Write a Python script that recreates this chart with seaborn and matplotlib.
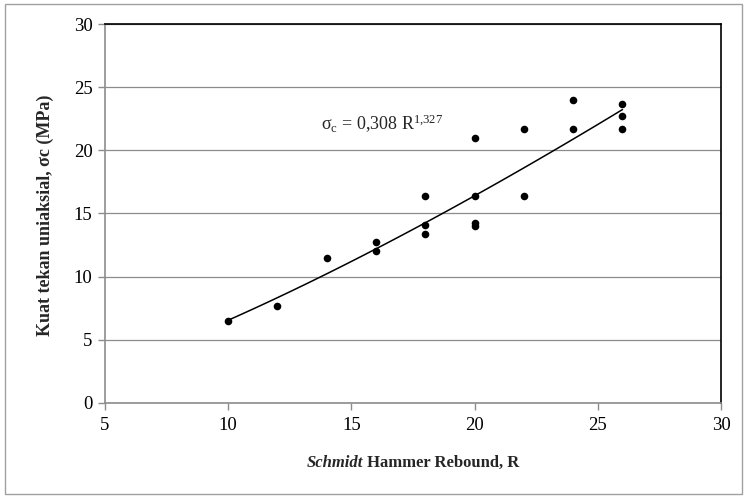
import numpy as np
import pandas as pd
import matplotlib
matplotlib.use("Agg")
import matplotlib.pyplot as plt
from matplotlib.patches import Rectangle
import seaborn as sns

# Schmidt hammer rebound (R) and uniaxial compressive strength (MPa)
rebound = [10, 12, 14, 16, 16, 18, 18, 18, 20, 20, 20, 20, 22, 22, 24, 24, 26, 26, 26]
ucs = [6.45, 7.7, 11.5, 12.75, 12.0, 16.4, 14.05, 13.35, 21.0, 16.4, 14.25, 14.0,
       21.7, 16.4, 24.0, 21.7, 23.65, 22.7, 21.7]

# power-law trendline: sigma_c = a * R^b
coef_a = 0.308
coef_b = 1.327

x_ticks = [5, 10, 15, 20, 25, 30]
y_ticks = [0, 5, 10, 15, 20, 25, 30]

sns.set_theme(style="white")
plt.rcParams["font.family"] = ["Liberation Serif", "DejaVu Serif"]
plt.rcParams["mathtext.fontset"] = "custom"
plt.rcParams["mathtext.rm"] = "Liberation Serif"
plt.rcParams["mathtext.it"] = "Liberation Serif:italic"
plt.rcParams["mathtext.bf"] = "Liberation Serif:bold"

df = pd.DataFrame({"R": rebound, "UCS": ucs})
r_fit = np.linspace(min(rebound), max(rebound), 100)
fit = pd.DataFrame({"R": r_fit, "UCS": coef_a * r_fit ** coef_b})

W, H = 746, 501
fig = plt.figure(figsize=(W / 100, H / 100), dpi=100)
ax = fig.add_axes([105 / W, 1 - 402.7 / H, (721 - 105) / W, (402.7 - 24.3) / H])

# outer chart frame
fig.patches.append(Rectangle((5 / W, 1 - 494 / H), 737 / W, 490 / H,
                             transform=fig.transFigure, fill=False,
                             edgecolor="#a0a0a0", linewidth=1.0, zorder=0))

ax.grid(axis="y", color="#8c8c8c", linewidth=0.9)
ax.set_axisbelow(True)

sns.lineplot(data=fit, x="R", y="UCS", ax=ax, color="black", linewidth=1.1, zorder=2)
sns.scatterplot(data=df, x="R", y="UCS", ax=ax, color="black", s=30,
                edgecolor="black", linewidth=0, zorder=3)

ax.set_xlim(5, 30)
ax.set_ylim(0, 30)
ax.set_xticks(x_ticks)
ax.set_yticks(y_ticks)
ax.tick_params(axis="both", direction="out", length=5, width=1, color="#8c8c8c",
               labelsize=13.5, labelcolor="black", left=True, bottom=True)
ax.tick_params(axis="x", pad=5)
ax.tick_params(axis="y", pad=4)

for side in ["left", "bottom"]:
    ax.spines[side].set_color("#8c8c8c")
    ax.spines[side].set_linewidth(1.2)
for side in ["top", "right"]:
    ax.spines[side].set_color("black")
    ax.spines[side].set_linewidth(1.2)

ax.set_xlabel("")
ax.set_ylabel("")

# y-axis title
fig.text(45 / W, 1 - 215 / H, "Kuat tekan uniaksial, σc (MPa)", rotation=90,
         ha="center", va="center", fontsize=13, fontweight="bold")

# x-axis title: italic "Schmidt" followed by bold text
renderer = fig.canvas.get_renderer()
t1 = fig.text(0, 1 - 463 / H, "Schmidt", fontsize=12, fontweight="bold",
              fontstyle="italic", va="center", ha="left")
t2 = fig.text(0, 1 - 463 / H, " Hammer Rebound, R", fontsize=12, fontweight="bold",
              va="center", ha="left")
w1 = t1.get_window_extent(renderer).width
w2 = t2.get_window_extent(renderer).width
x0 = 413 - (w1 + w2) / 2
t1.set_x(x0 / W)
t2.set_x((x0 + w1) / W)

# trendline equation
ax.text(16.25, 22.1, r"σ$_{\mathrm{c}}$ = 0,308 R$^{1{,}327}$",
        ha="center", va="center", fontsize=13)

fig.savefig("out.png", dpi=100)
